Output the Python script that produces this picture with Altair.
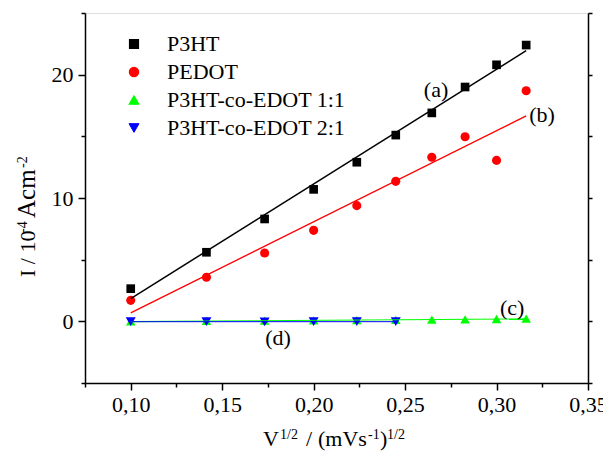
import altair as alt
import pandas as pd

# ---- data ----
x_vals = [0.1000, 0.1414, 0.1732, 0.2000, 0.2236, 0.2449, 0.2646, 0.2828, 0.3000, 0.3162]
p3ht = [2.65, 5.6, 8.3, 10.7, 12.9, 15.1, 16.9, 19.0, 20.8, 22.4]
pedot = [1.7, 3.57, 5.54, 7.38, 9.38, 11.35, 13.3, 14.97, 13.05, 18.7]
co11 = [0.0, 0.03, 0.05, 0.07, 0.09, 0.11, 0.14, 0.16, 0.19, 0.22]
co21 = [-0.03, -0.02, -0.04, -0.03, -0.02, -0.03]

series_names = ["P3HT", "PEDOT", "P3HT-co-EDOT 1:1", "P3HT-co-EDOT 2:1"]
series_colors = ["#000000", "#ff0000", "#00ff00", "#0000ff"]
series_shapes = ["square", "circle", "triangle-up", "triangle-down"]
series_widths = [1.5, 1.0, 1.5, 1.5]

ann_text = ["(a)", "(b)", "(c)", "(d)"]
ann_x = [0.2669, 0.3249, 0.3085, 0.1805]
ann_y = [18.73, 16.7, 1.05, -1.38]

y_ticks = [-5, 0, 5, 10, 15, 20, 25]
x_ticks = [0.075, 0.1, 0.125, 0.15, 0.175, 0.2, 0.225, 0.25, 0.275, 0.3, 0.325, 0.35]

rows = []
for name, ys in zip(series_names, [p3ht, pedot, co11, co21]):
    for xv, yv in zip(x_vals, ys):
        rows.append({"series": name, "x": xv, "y": yv})
df = pd.DataFrame(rows)
ann_df = pd.DataFrame({"t": ann_text, "x": ann_x, "y": ann_y})

FONT = "Liberation Serif"
xscale = alt.Scale(domain=[0.075, 0.35], nice=False, zero=False)
yscale = alt.Scale(domain=[-5, 25], nice=False, zero=False)


def make_legend():
    return alt.Legend(orient="none", legendX=38, legendY=20, title=None,
                      labelFont=FONT, labelFontSize=22, labelColor="black", labelLimit=400,
                      symbolSize=100, labelOffset=22, rowPadding=6, padding=0,
                      symbolStrokeWidth=0)


color = alt.Color("series:N", scale=alt.Scale(domain=series_names, range=series_colors), legend=make_legend())
shape = alt.Shape("series:N", scale=alt.Scale(domain=series_names, range=series_shapes), legend=make_legend())

major_x = "round(datum.value*1000) % 50 == 0"
xaxis = alt.Axis(values=x_ticks, title=None, grid=False,
                 labelExpr=f"{major_x} ? replace(format(datum.value, '.2f'), '.', ',') : ''",
                 labelFont=FONT, labelFontSize=22, labelColor="black", labelPadding=4,
                 tickSize={"condition": {"test": major_x, "value": 7}, "value": 4},
                 tickColor="black", tickWidth=1.5, domainColor="black", domainWidth=1.5,
                 labelFlush=False, labelOverlap=False)
major_y = "datum.value % 10 == 0"
yaxis = alt.Axis(values=y_ticks, title=None, grid=False,
                 labelExpr=f"{major_y} ? datum.value : ''",
                 labelFont=FONT, labelFontSize=22, labelColor="black", labelPadding=5,
                 tickSize={"condition": {"test": major_y, "value": 7}, "value": 4},
                 tickColor="black", tickWidth=1.5, domainColor="black", domainWidth=1.5,
                 labelOverlap=False)

X = alt.X("x:Q", scale=xscale, axis=xaxis)

base = alt.Chart(df)
points = base.mark_point(filled=True, opacity=1, strokeWidth=0).encode(
    x=X,
    y=alt.Y("y:Q", scale=yscale, axis=yaxis),
    color=color,
    shape=shape,
    size=alt.Size("series:N", scale=alt.Scale(domain=series_names, range=[75, 100, 150, 150]), legend=None),
)
lines = base.transform_regression("x", "y", groupby=["series"]).mark_line().encode(
    x=X,
    y=alt.Y("y:Q", scale=yscale, axis=None),
    color=alt.Color("series:N", scale=alt.Scale(domain=series_names, range=series_colors), legend=None),
    strokeWidth=alt.StrokeWidth("series:N", scale=alt.Scale(domain=series_names, range=series_widths), legend=None),
)
ann = alt.Chart(ann_df).mark_text(font=FONT, fontSize=22, color="black", baseline="middle").encode(
    x=X,
    y=alt.Y("y:Q", scale=yscale, axis=None),
    text="t:N",
)
right_axis = base.mark_point(opacity=0).encode(
    y=alt.Y("y:Q", scale=yscale, axis=alt.Axis(orient="right", values=y_ticks, labels=False, title=None,
                                                 grid=False, tickSize=4, tickColor="black", tickWidth=1.5,
                                                 domainColor="black", domainWidth=1.5)),
)

one = pd.DataFrame({"k": [0]})


def piece(txt, px, py, size, angle=0):
    return alt.Chart(one).mark_text(text=txt, font=FONT, fontSize=size, color="black",
                                    align="left", baseline="alphabetic", angle=angle).encode(
        x=alt.value(px), y=alt.value(py))


title_pieces = [
    piece("V", 178, 433, 22),
    piece("1/2", 195, 426, 14),
    piece("/", 221, 433, 22),
    piece("(mVs", 233, 433, 22),
    piece("-1", 283, 426, 14),
    piece(")", 295, 433, 22),
    piece("1/2", 302, 426, 14),
    piece("I / 10", -50, 264, 22, 270),
    piece("-4", -58, 220, 14, 270),
    piece("Acm", -50, 205, 25, 270),
    piece("-2", -58, 155, 14, 270),
]

chart = alt.layer(points, lines, ann, right_axis, *title_pieces).resolve_axis(y="independent").properties(
    width=503, height=370,
    autosize=alt.AutoSizeParams(type="none"),
    padding={"left": 77, "top": 5, "right": 15, "bottom": 68},
).configure_view(stroke="black", strokeWidth=1.5).configure(background="white")

chart.save("out.html", embed_options={"renderer": "svg", "actions": False})
